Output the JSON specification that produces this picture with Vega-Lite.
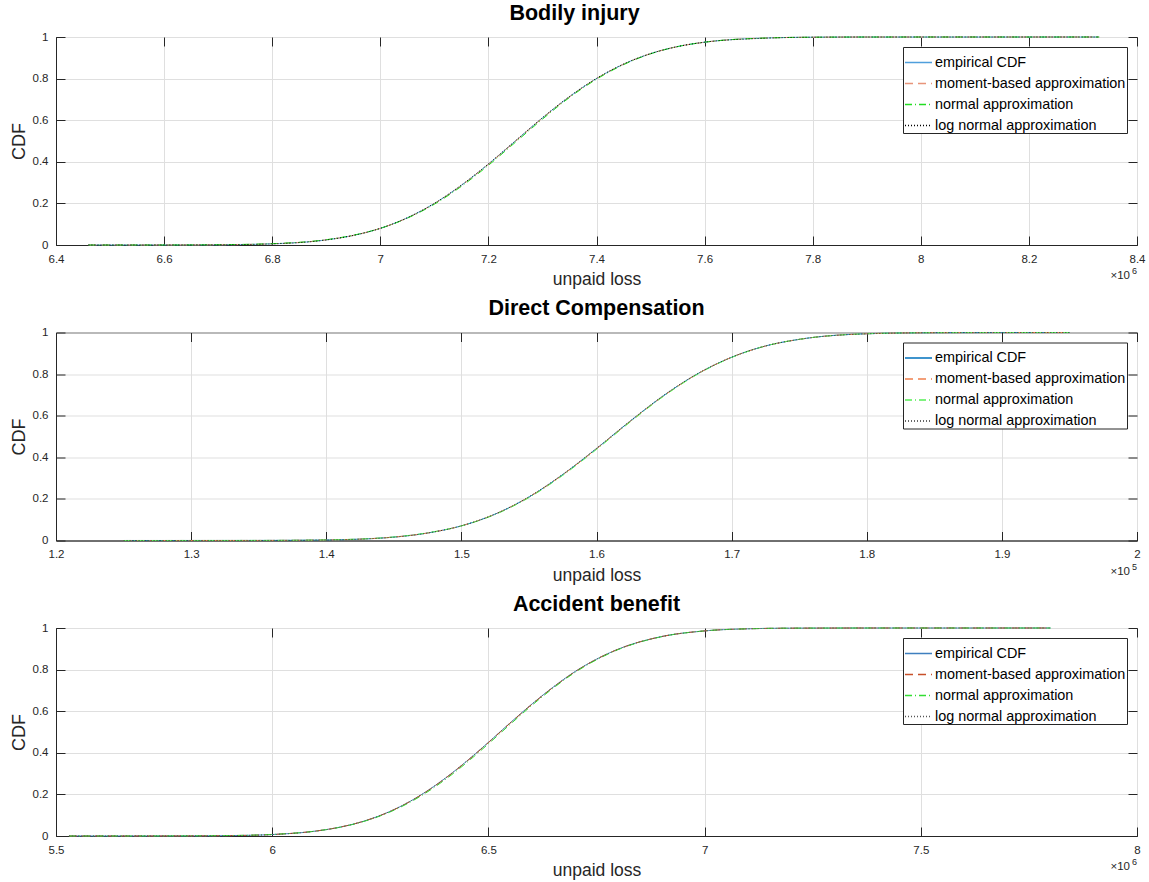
{
  "$schema": "https://vega.github.io/schema/vega-lite/v6.json",
  "background": "white",
  "padding": {"left": 9, "top": 2, "right": 12, "bottom": 0},
  "spacing": 8.5,
  "config": {
    "font": "Liberation Sans",
    "view": {"stroke": "#262626", "strokeWidth": 1},
    "title": {"font": "Liberation Sans", "fontSize": 21.5, "fontWeight": "bold", "color": "#000000", "offset": 7},
    "axis": {
      "labelFont": "Liberation Sans", "labelFontSize": 11.5, "labelColor": "#262626",
      "titleFont": "Liberation Sans", "titleFontWeight": "normal", "titleColor": "#262626",
      "domainColor": "#262626", "tickColor": "#262626", "gridColor": "#dfdfdf",
      "tickSize": -9, "labelPadding": 17, "labelFlush": false
    },
    "axisX": {"titleFontSize": 17.5, "titlePadding": 6},
    "axisY": {"titleFontSize": 18, "titlePadding": 4},
    "legend": {
      "orient": "top-right", "offset": 10, "strokeColor": "#262626", "fillColor": "white",
      "padding": 1, "title": null, "labelFont": "Liberation Sans", "labelFontSize": 14.4, "labelColor": "#000000",
      "labelLimit": 400, "symbolType": "stroke", "symbolSize": 729, "symbolStrokeWidth": 1.3, "rowPadding": -5, "labelOffset": 2
    }
  },
  "datasets": {
    "p1": [
      {"x": 6.46, "e1": 0, "m1": 0, "n1": 0, "l1": 0},
      {"x": 6.6, "e1": 0.0001, "m1": 0.0001, "n1": 0.0002, "l1": 0.0001},
      {"x": 6.7, "e1": 0.001, "m1": 0.001, "n1": 0.0015, "l1": 0.0009},
      {"x": 6.8, "e1": 0.0057, "m1": 0.0058, "n1": 0.0065, "l1": 0.0055},
      {"x": 6.9, "e1": 0.0246, "m1": 0.0248, "n1": 0.0255, "l1": 0.0243},
      {"x": 6.95, "e1": 0.046, "m1": 0.046, "n1": 0.047, "l1": 0.046},
      {"x": 7.0, "e1": 0.08, "m1": 0.08, "n1": 0.08, "l1": 0.08},
      {"x": 7.05, "e1": 0.131, "m1": 0.13, "n1": 0.129, "l1": 0.131},
      {"x": 7.1, "e1": 0.2, "m1": 0.199, "n1": 0.196, "l1": 0.2},
      {"x": 7.15, "e1": 0.287, "m1": 0.286, "n1": 0.282, "l1": 0.288},
      {"x": 7.2, "e1": 0.389, "m1": 0.388, "n1": 0.383, "l1": 0.39},
      {"x": 7.25, "e1": 0.5, "m1": 0.499, "n1": 0.494, "l1": 0.501},
      {"x": 7.3, "e1": 0.611, "m1": 0.61, "n1": 0.605, "l1": 0.612},
      {"x": 7.35, "e1": 0.713, "m1": 0.712, "n1": 0.709, "l1": 0.714},
      {"x": 7.4, "e1": 0.8, "m1": 0.8, "n1": 0.797, "l1": 0.801},
      {"x": 7.45, "e1": 0.869, "m1": 0.869, "n1": 0.867, "l1": 0.87},
      {"x": 7.5, "e1": 0.92, "m1": 0.92, "n1": 0.919, "l1": 0.92},
      {"x": 7.55, "e1": 0.954, "m1": 0.954, "n1": 0.954, "l1": 0.954},
      {"x": 7.6, "e1": 0.975, "m1": 0.975, "n1": 0.975, "l1": 0.975},
      {"x": 7.7, "e1": 0.994, "m1": 0.994, "n1": 0.994, "l1": 0.993},
      {"x": 7.8, "e1": 0.999, "m1": 0.999, "n1": 0.999, "l1": 0.999},
      {"x": 7.9, "e1": 0.9999, "m1": 0.9999, "n1": 0.9999, "l1": 0.9999},
      {"x": 8.33, "e1": 1, "m1": 1, "n1": 1, "l1": 1}
    ],
    "p2": [
      {"x": 1.25, "e2": 0, "m2": 0, "n2": 0, "l2": 0},
      {"x": 1.35, "e2": 0.0003, "m2": 0.0003, "n2": 0.0004, "l2": 0.0002},
      {"x": 1.4, "e2": 0.0026, "m2": 0.0026, "n2": 0.003, "l2": 0.0024},
      {"x": 1.45, "e2": 0.0164, "m2": 0.0165, "n2": 0.017, "l2": 0.016},
      {"x": 1.475, "e2": 0.036, "m2": 0.036, "n2": 0.037, "l2": 0.036},
      {"x": 1.5, "e2": 0.0705, "m2": 0.0705, "n2": 0.07, "l2": 0.0705},
      {"x": 1.525, "e2": 0.127, "m2": 0.127, "n2": 0.125, "l2": 0.127},
      {"x": 1.55, "e2": 0.209, "m2": 0.209, "n2": 0.206, "l2": 0.21},
      {"x": 1.575, "e2": 0.317, "m2": 0.316, "n2": 0.313, "l2": 0.318},
      {"x": 1.6, "e2": 0.442, "m2": 0.441, "n2": 0.438, "l2": 0.443},
      {"x": 1.625, "e2": 0.574, "m2": 0.573, "n2": 0.57, "l2": 0.575},
      {"x": 1.65, "e2": 0.698, "m2": 0.697, "n2": 0.695, "l2": 0.699},
      {"x": 1.675, "e2": 0.802, "m2": 0.802, "n2": 0.8, "l2": 0.803},
      {"x": 1.7, "e2": 0.881, "m2": 0.881, "n2": 0.88, "l2": 0.881},
      {"x": 1.725, "e2": 0.935, "m2": 0.935, "n2": 0.935, "l2": 0.935},
      {"x": 1.75, "e2": 0.967, "m2": 0.967, "n2": 0.967, "l2": 0.967},
      {"x": 1.8, "e2": 0.9939, "m2": 0.9939, "n2": 0.994, "l2": 0.9936},
      {"x": 1.85, "e2": 0.9992, "m2": 0.9992, "n2": 0.9992, "l2": 0.9991},
      {"x": 1.9, "e2": 0.9999, "m2": 0.9999, "n2": 0.9999, "l2": 0.9999},
      {"x": 1.95, "e2": 1, "m2": 1, "n2": 1, "l2": 1}
    ],
    "p3": [
      {"x": 5.53, "e3": 0, "m3": 0, "n3": 0, "l3": 0},
      {"x": 5.7, "e3": 0.0001, "m3": 0.0001, "n3": 0.0002, "l3": 0.0001},
      {"x": 5.8, "e3": 0.0004, "m3": 0.0004, "n3": 0.0006, "l3": 0.0003},
      {"x": 5.9, "e3": 0.0018, "m3": 0.0018, "n3": 0.0022, "l3": 0.0016},
      {"x": 6.0, "e3": 0.0071, "m3": 0.0072, "n3": 0.0075, "l3": 0.0068},
      {"x": 6.1, "e3": 0.0235, "m3": 0.0236, "n3": 0.0235, "l3": 0.0232},
      {"x": 6.15, "e3": 0.0398, "m3": 0.0398, "n3": 0.0393, "l3": 0.0396},
      {"x": 6.2, "e3": 0.0641, "m3": 0.0641, "n3": 0.063, "l3": 0.064},
      {"x": 6.25, "e3": 0.0988, "m3": 0.0985, "n3": 0.0965, "l3": 0.0988},
      {"x": 6.3, "e3": 0.1455, "m3": 0.145, "n3": 0.142, "l3": 0.1457},
      {"x": 6.35, "e3": 0.2052, "m3": 0.2045, "n3": 0.2, "l3": 0.2056},
      {"x": 6.4, "e3": 0.2773, "m3": 0.2765, "n3": 0.271, "l3": 0.2778},
      {"x": 6.45, "e3": 0.36, "m3": 0.359, "n3": 0.353, "l3": 0.3606},
      {"x": 6.5, "e3": 0.45, "m3": 0.449, "n3": 0.443, "l3": 0.4505},
      {"x": 6.55, "e3": 0.543, "m3": 0.542, "n3": 0.536, "l3": 0.5432},
      {"x": 6.6, "e3": 0.633, "m3": 0.632, "n3": 0.627, "l3": 0.6332},
      {"x": 6.65, "e3": 0.716, "m3": 0.715, "n3": 0.711, "l3": 0.716},
      {"x": 6.7, "e3": 0.79, "m3": 0.789, "n3": 0.786, "l3": 0.7897},
      {"x": 6.75, "e3": 0.85, "m3": 0.85, "n3": 0.847, "l3": 0.8497},
      {"x": 6.8, "e3": 0.898, "m3": 0.898, "n3": 0.896, "l3": 0.8976},
      {"x": 6.9, "e3": 0.9586, "m3": 0.9586, "n3": 0.958, "l3": 0.9583},
      {"x": 7.0, "e3": 0.9861, "m3": 0.9861, "n3": 0.986, "l3": 0.9858},
      {"x": 7.1, "e3": 0.9962, "m3": 0.9962, "n3": 0.9962, "l3": 0.996},
      {"x": 7.2, "e3": 0.9991, "m3": 0.9991, "n3": 0.9992, "l3": 0.999},
      {"x": 7.4, "e3": 0.99995, "m3": 0.99995, "n3": 0.99996, "l3": 0.99994},
      {"x": 7.8, "e3": 1, "m3": 1, "n3": 1, "l3": 1}
    ],
    "one": [{"k": 1}]
  },
  "vconcat": [
    {
      "width": 1081, "height": 208,
      "title": {"text": "Bodily injury", "dx": -22},
      "resolve": {"axis": {"x": "independent", "y": "independent"}},
      "layer": [
        {
          "data": {"name": "p1"},
          "transform": [{"fold": ["e1", "m1", "n1", "l1"], "as": ["series", "cdf"]}],
          "mark": {"type": "line", "strokeWidth": 1, "interpolate": "monotone"},
          "encoding": {
            "x": {"field": "x", "type": "quantitative", "scale": {"domain": [6.4, 8.4], "nice": false, "zero": false},
                  "axis": {"title": "unpaid loss", "values": [6.4, 6.6, 6.8, 7, 7.2, 7.4, 7.6, 7.8, 8, 8.2, 8.4], "format": "~g", "grid": true}},
            "y": {"field": "cdf", "type": "quantitative", "scale": {"domain": [0, 1], "nice": false},
                  "axis": {"title": "CDF", "values": [0, 0.2, 0.4, 0.6, 0.8, 1], "format": "~g", "grid": true}},
            "color": {"field": "series", "type": "nominal",
                      "scale": {"domain": ["e1", "m1", "n1", "l1"], "range": ["#4f9fdc", "#e8957a", "#22dd22", "#000000"]},
                      "legend": {"labelExpr": "{'e':'empirical CDF','m':'moment-based approximation','n':'normal approximation','l':'log normal approximation'}[substring(datum.value,0,1)]"}},
            "strokeDash": {"field": "series", "type": "nominal",
                      "scale": {"domain": ["e1", "m1", "n1", "l1"], "range": [[1, 0], [8, 5], [7, 3, 1, 3], [1, 2]]},
                      "legend": {"labelExpr": "{'e':'empirical CDF','m':'moment-based approximation','n':'normal approximation','l':'log normal approximation'}[substring(datum.value,0,1)]"}}
          }
        },
        {
          "data": {"name": "one"},
          "mark": {"type": "text", "align": "right", "baseline": "middle", "fontSize": 11.5, "color": "#262626", "font": "Liberation Sans", "dx": -7},
          "encoding": {
            "x": {"datum": 8.4, "type": "quantitative",
                  "axis": {"orient": "top", "labels": false, "title": null, "grid": false, "domain": false, "values": [6.4, 6.6, 6.8, 7, 7.2, 7.4, 7.6, 7.8, 8, 8.2, 8.4]}},
            "y": {"datum": -0.15, "type": "quantitative",
                  "axis": {"orient": "right", "labels": false, "title": null, "grid": false, "domain": false, "values": [0, 0.2, 0.4, 0.6, 0.8, 1]}},
            "text": {"value": "×10"}
          }
        },
        {
          "data": {"name": "one"},
          "mark": {"type": "text", "align": "right", "baseline": "middle", "fontSize": 9, "color": "#262626", "font": "Liberation Sans", "dy": -5},
          "encoding": {
            "x": {"datum": 8.4, "type": "quantitative", "axis": null},
            "y": {"datum": -0.15, "type": "quantitative", "axis": null},
            "text": {"value": "6"}
          }
        }
      ]
    },
    {
      "width": 1081, "height": 208,
      "title": {"text": "Direct Compensation"},
      "resolve": {"axis": {"x": "independent", "y": "independent"}},
      "layer": [
        {
          "data": {"name": "p2"},
          "transform": [{"fold": ["e2", "m2", "n2", "l2"], "as": ["series", "cdf"]}],
          "mark": {"type": "line", "strokeWidth": 1, "interpolate": "monotone"},
          "encoding": {
            "x": {"field": "x", "type": "quantitative", "scale": {"domain": [1.2, 2.0], "nice": false, "zero": false},
                  "axis": {"title": "unpaid loss", "values": [1.2, 1.3, 1.4, 1.5, 1.6, 1.7, 1.8, 1.9, 2], "format": "~g", "grid": true}},
            "y": {"field": "cdf", "type": "quantitative", "scale": {"domain": [0, 1], "nice": false},
                  "axis": {"title": "CDF", "values": [0, 0.2, 0.4, 0.6, 0.8, 1], "format": "~g", "grid": true}},
            "color": {"field": "series", "type": "nominal",
                      "scale": {"domain": ["e2", "m2", "n2", "l2"], "range": ["#0072bd", "#f0804d", "#55ee55", "#333333"]},
                      "legend": {"labelExpr": "{'e':'empirical CDF','m':'moment-based approximation','n':'normal approximation','l':'log normal approximation'}[substring(datum.value,0,1)]"}},
            "strokeDash": {"field": "series", "type": "nominal",
                      "scale": {"domain": ["e2", "m2", "n2", "l2"], "range": [[1, 0], [8, 5], [7, 3, 1, 3], [1, 2]]},
                      "legend": {"labelExpr": "{'e':'empirical CDF','m':'moment-based approximation','n':'normal approximation','l':'log normal approximation'}[substring(datum.value,0,1)]"}}
          }
        },
        {
          "data": {"name": "one"},
          "mark": {"type": "text", "align": "right", "baseline": "middle", "fontSize": 11.5, "color": "#262626", "font": "Liberation Sans", "dx": -7},
          "encoding": {
            "x": {"datum": 2.0, "type": "quantitative",
                  "axis": {"orient": "top", "labels": false, "title": null, "grid": false, "domain": false, "values": [1.2, 1.3, 1.4, 1.5, 1.6, 1.7, 1.8, 1.9, 2]}},
            "y": {"datum": -0.15, "type": "quantitative",
                  "axis": {"orient": "right", "labels": false, "title": null, "grid": false, "domain": false, "values": [0, 0.2, 0.4, 0.6, 0.8, 1]}},
            "text": {"value": "×10"}
          }
        },
        {
          "data": {"name": "one"},
          "mark": {"type": "text", "align": "right", "baseline": "middle", "fontSize": 9, "color": "#262626", "font": "Liberation Sans", "dy": -5},
          "encoding": {
            "x": {"datum": 2.0, "type": "quantitative", "axis": null},
            "y": {"datum": -0.15, "type": "quantitative", "axis": null},
            "text": {"value": "5"}
          }
        }
      ]
    },
    {
      "width": 1081, "height": 208,
      "title": {"text": "Accident benefit"},
      "resolve": {"axis": {"x": "independent", "y": "independent"}},
      "layer": [
        {
          "data": {"name": "p3"},
          "transform": [{"fold": ["e3", "m3", "n3", "l3"], "as": ["series", "cdf"]}],
          "mark": {"type": "line", "strokeWidth": 1, "interpolate": "monotone"},
          "encoding": {
            "x": {"field": "x", "type": "quantitative", "scale": {"domain": [5.5, 8.0], "nice": false, "zero": false},
                  "axis": {"title": "unpaid loss", "values": [5.5, 6, 6.5, 7, 7.5, 8], "format": "~g", "grid": true}},
            "y": {"field": "cdf", "type": "quantitative", "scale": {"domain": [0, 1], "nice": false},
                  "axis": {"title": "CDF", "values": [0, 0.2, 0.4, 0.6, 0.8, 1], "format": "~g", "grid": true}},
            "color": {"field": "series", "type": "nominal",
                      "scale": {"domain": ["e3", "m3", "n3", "l3"], "range": ["#3f7fbf", "#c8502a", "#33dd33", "#555555"]},
                      "legend": {"labelExpr": "{'e':'empirical CDF','m':'moment-based approximation','n':'normal approximation','l':'log normal approximation'}[substring(datum.value,0,1)]"}},
            "strokeDash": {"field": "series", "type": "nominal",
                      "scale": {"domain": ["e3", "m3", "n3", "l3"], "range": [[1, 0], [8, 5], [7, 3, 1, 3], [1, 2]]},
                      "legend": {"labelExpr": "{'e':'empirical CDF','m':'moment-based approximation','n':'normal approximation','l':'log normal approximation'}[substring(datum.value,0,1)]"}}
          }
        },
        {
          "data": {"name": "one"},
          "mark": {"type": "text", "align": "right", "baseline": "middle", "fontSize": 11.5, "color": "#262626", "font": "Liberation Sans", "dx": -7},
          "encoding": {
            "x": {"datum": 8.0, "type": "quantitative",
                  "axis": {"orient": "top", "labels": false, "title": null, "grid": false, "domain": false, "values": [5.5, 6, 6.5, 7, 7.5, 8]}},
            "y": {"datum": -0.15, "type": "quantitative",
                  "axis": {"orient": "right", "labels": false, "title": null, "grid": false, "domain": false, "values": [0, 0.2, 0.4, 0.6, 0.8, 1]}},
            "text": {"value": "×10"}
          }
        },
        {
          "data": {"name": "one"},
          "mark": {"type": "text", "align": "right", "baseline": "middle", "fontSize": 9, "color": "#262626", "font": "Liberation Sans", "dy": -5},
          "encoding": {
            "x": {"datum": 8.0, "type": "quantitative", "axis": null},
            "y": {"datum": -0.15, "type": "quantitative", "axis": null},
            "text": {"value": "6"}
          }
        }
      ]
    }
  ],
  "resolve": {"scale": {"color": "independent", "strokeDash": "independent"}}
}
